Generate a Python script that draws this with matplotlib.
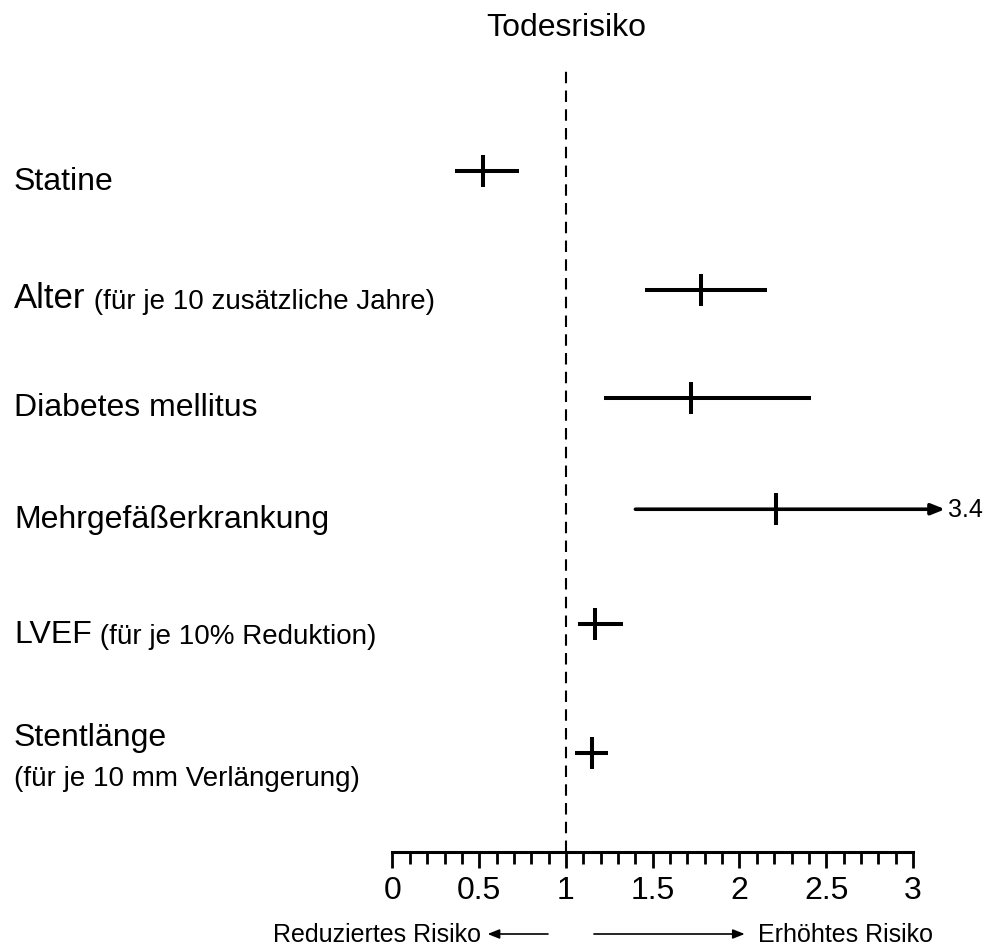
import matplotlib
matplotlib.use('Agg')
import matplotlib.pyplot as plt
import matplotlib.transforms as mtransforms
from matplotlib.ticker import MultipleLocator, FixedLocator, FixedFormatter

plt.rcParams['font.family'] = ['Liberation Sans', 'DejaVu Sans']

# data: hazard ratio with 95% CI
labels = ['Statine', 'Alter', 'Diabetes mellitus', 'Mehrgefäßerkrankung', 'LVEF', 'Stentlänge']
sub_labels = ['', ' (für je 10 zusätzliche Jahre)', '', '', ' (für je 10% Reduktion)',
              '(für je 10 mm Verlängerung)']
hr = [0.52, 1.78, 1.72, 2.21, 1.17, 1.15]
ci_lo = [0.36, 1.455, 1.22, 1.40, 1.07, 1.05]
ci_hi = [0.73, 2.16, 2.41, 3.4, 1.33, 1.24]
tick_vals = [0, 0.5, 1, 1.5, 2, 2.5, 3]
tick_labels = ['0', '0.5', '1', '1.5', '2', '2.5', '3']
x_max = 3

# vertical layout of the rows (row units, top to bottom)
row_pos = [0, 1.03, 1.97, 2.94, 3.94, 5.06]

fig = plt.figure(figsize=(9.95, 9.53), dpi=100)
ax = fig.add_axes([392.5 / 995, 100 / 953, 520.5 / 995, 783 / 953])
ax.set_xlim(0, x_max)
ax.set_ylim(5.922, -0.89)

for s in ['left', 'top', 'right']:
    ax.spines[s].set_visible(False)
ax.spines['bottom'].set_linewidth(2.2)
ax.yaxis.set_visible(False)

ax.xaxis.set_major_locator(FixedLocator(tick_vals))
ax.xaxis.set_major_formatter(FixedFormatter(tick_labels))
ax.xaxis.set_minor_locator(MultipleLocator(0.1))
ax.tick_params(axis='x', which='major', length=11.5, width=2.0, pad=5, labelsize=23)
ax.tick_params(axis='x', which='minor', length=8.6, width=2.0)

ax.axvline(1, color='black', lw=1.5, ls=(0, (5.5, 3.5)), zorder=1)

# forest plot marks
for i, y in enumerate(row_pos):
    if ci_hi[i] > x_max:
        ax.annotate('', xy=(3.185, y), xytext=(ci_lo[i], y), annotation_clip=False,
                    arrowprops=dict(arrowstyle='-|>,head_length=0.45,head_width=0.18',
                                    lw=2.6, color='black', mutation_scale=18,
                                    shrinkA=0, shrinkB=0))
        ax.text(3.2, y, '%g' % ci_hi[i], fontsize=18, va='center', ha='left', clip_on=False)
    else:
        ax.hlines(y, ci_lo[i], ci_hi[i], color='black', lw=2.9)
    ax.plot(hr[i], y, marker='|', markersize=23, mew=2.9, color='black')

# row labels at the left
trans = mtransforms.blended_transform_factory(fig.transFigure, ax.transData)
for i, (lab, sub) in enumerate(zip(labels, sub_labels)):
    y = row_pos[i]
    if lab == 'Stentlänge':
        t0 = mtransforms.offset_copy(trans, fig=fig, y=5.5, units='points')
        ax.text(14 / 995, y, lab, fontsize=23, transform=t0, va='baseline', ha='left')
        t1 = mtransforms.offset_copy(trans, fig=fig, y=-23.3, units='points')
        ax.text(14 / 995, y, sub, fontsize=20, transform=t1, va='baseline', ha='left')
        continue
    size = 25 if lab == 'Alter' else 23
    t0 = mtransforms.offset_copy(trans, fig=fig, y=-12.5, units='points')
    txt = ax.text(14 / 995, y, lab, fontsize=size, transform=t0, va='baseline', ha='left')
    if sub:
        ax.annotate(sub, xy=(1, 0), xycoords=txt, va='bottom', ha='left', fontsize=20)

# title and direction hints
ftop = mtransforms.blended_transform_factory(ax.transData, fig.transFigure)
ax.text(1, 1 - 28 / 953, 'Todesrisiko', fontsize=23, ha='center', va='center', transform=ftop)
yb = 1 - 935 / 953
ax.text(0.51, yb, 'Reduziertes Risiko', fontsize=18, ha='right', va='center', transform=ftop)
ax.annotate('', xy=(0.548, yb), xytext=(0.896, yb), xycoords=ftop, textcoords=ftop,
            arrowprops=dict(arrowstyle='-|>,head_length=0.5,head_width=0.2', lw=1.2,
                            color='black', mutation_scale=14, shrinkA=0, shrinkB=0))
ax.annotate('', xy=(2.03, yb), xytext=(1.161, yb), xycoords=ftop, textcoords=ftop,
            arrowprops=dict(arrowstyle='-|>,head_length=0.5,head_width=0.2', lw=1.2,
                            color='black', mutation_scale=14, shrinkA=0, shrinkB=0))
ax.text(2.106, yb, 'Erhöhtes Risiko', fontsize=18, ha='left', va='center', transform=ftop)

plt.savefig('out.png', dpi=100)
